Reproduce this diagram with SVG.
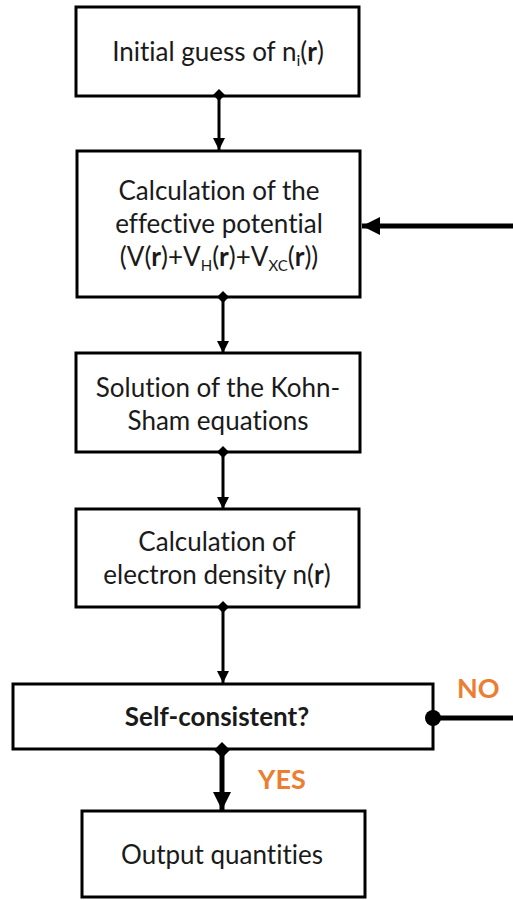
<svg xmlns="http://www.w3.org/2000/svg" width="513" height="900" viewBox="0 0 513 900">
<style>
  .box { fill: #ffffff; stroke: #000000; stroke-width: 3; }
  .t { font-family: Lato, "Open Sans", "Liberation Sans", sans-serif; font-size: 26px; fill: #1a1a1a; text-anchor: middle; font-variant-ligatures: none; }
  .b { font-weight: bold; }
  .lbl { font-family: Lato, "Open Sans", "Liberation Sans", sans-serif; font-size: 27px; font-weight: bold; fill: #ED7D31; }
  .c { stroke: #000000; fill: none; }
  .thin { stroke-width: 3; }
  .thick { stroke-width: 5; }
</style>
<defs>
  <marker id="arr" viewBox="0 0 12 12" refX="12" refY="6" markerWidth="12" markerHeight="12" markerUnits="userSpaceOnUse" orient="auto">
    <path d="M0,0 L12,6 L0,12 Z" fill="#000"/>
  </marker>
  <marker id="arrBig" viewBox="0 0 18 18" refX="18" refY="9" markerWidth="18" markerHeight="18" markerUnits="userSpaceOnUse" orient="auto">
    <path d="M0,0 L18,9 L0,18 Z" fill="#000"/>
  </marker>
  <marker id="dia" viewBox="0 0 12 12" refX="6" refY="6" markerWidth="12" markerHeight="12" markerUnits="userSpaceOnUse" orient="auto">
    <path d="M0,6 L6,0 L12,6 L6,12 Z" fill="#000"/>
  </marker>
  <marker id="diaBig" viewBox="0 0 16 16" refX="8" refY="8" markerWidth="16" markerHeight="16" markerUnits="userSpaceOnUse" orient="auto">
    <path d="M0,8 L8,0 L16,8 L8,16 Z" fill="#000"/>
  </marker>
</defs>

<g id="n1">
  <rect class="box" x="76" y="7" width="283" height="89"/>
  <text class="t" x="218" y="61">Initial guess of n<tspan font-size="16" dy="5">i</tspan><tspan dy="-5">(</tspan><tspan class="b">r</tspan>)</text>
</g>

<g id="n2">
  <rect class="box" x="77" y="151" width="283" height="146"/>
  <text class="t" x="219" y="200">Calculation of the</text>
  <text class="t" x="219" y="233">effective potential</text>
  <text class="t" x="219" y="266">(V(<tspan class="b">r</tspan>)+V<tspan font-size="15" dy="5">H</tspan><tspan dy="-5">(</tspan><tspan class="b">r</tspan>)+V<tspan font-size="15" dy="5">XC</tspan><tspan dy="-5">(</tspan><tspan class="b">r</tspan>))</text>
</g>

<g id="n3">
  <rect class="box" x="76" y="353" width="284" height="99"/>
  <text class="t" x="218" y="397">Solution of the Kohn-</text>
  <text class="t" x="218" y="430">Sham equations</text>
</g>

<g id="n4">
  <rect class="box" x="76" y="509" width="283" height="98"/>
  <text class="t" x="217" y="551">Calculation of</text>
  <text class="t" x="217" y="584">electron density n(<tspan class="b">r</tspan>)</text>
</g>

<g id="n5">
  <rect class="box" x="13" y="684" width="420" height="65"/>
  <text class="t b" x="217" y="726">Self-consistent?</text>
</g>

<g id="n6">
  <rect class="box" x="82" y="811" width="283" height="86"/>
  <text class="t" x="222" y="864">Output quantities</text>
</g>

<g id="connectors">
  <line class="c thin" x1="219" y1="95" x2="219" y2="150" marker-start="url(#dia)" marker-end="url(#arr)"/>
  <line class="c thin" x1="223" y1="297" x2="223" y2="353" marker-start="url(#dia)" marker-end="url(#arr)"/>
  <line class="c thin" x1="223" y1="452" x2="223" y2="509" marker-start="url(#dia)" marker-end="url(#arr)"/>
  <line class="c thin" x1="223" y1="607" x2="223" y2="683" marker-start="url(#dia)" marker-end="url(#arr)"/>
  <line class="c thick" x1="222" y1="750" x2="222" y2="810" marker-start="url(#diaBig)" marker-end="url(#arrBig)"/>
  <line class="c thick" x1="433" y1="718" x2="513" y2="718"/>
  <circle cx="433" cy="718" r="8" fill="#000"/>
  <line class="c thick" x1="513" y1="226" x2="362" y2="226" marker-end="url(#arrBig)"/>
</g>

<text class="lbl" x="457" y="698">NO</text>
<text class="lbl" x="258" y="789">YES</text>
</svg>
